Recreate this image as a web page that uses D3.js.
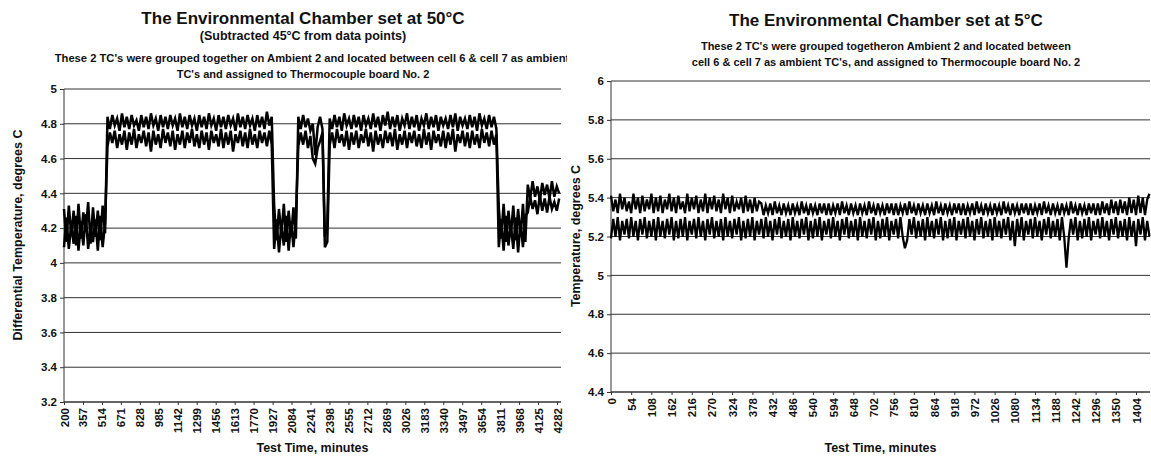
<!DOCTYPE html>
<html>
<head>
<meta charset="utf-8">
<script src="https://cdn.jsdelivr.net/npm/d3@7"></script>
<style>
  body { margin: 0; background: #fff; }
  svg { display: block; }
  text { font-family: "Liberation Sans", Arial, sans-serif; font-weight: bold; fill: #111; }
  .grid line { stroke: #333; stroke-width: 1; }
  .axis path, .axis line { stroke: #333; }
  .series { fill: none; stroke: #000; stroke-linejoin: miter; }
</style>
</head>
<body>
<div class="chart"></div>
<script>
'use strict';
// ---- 50C chamber (left), samples every 20 min from 200 min ----
var leftStart = 200, leftStep = 20;
var leftTickLabels = [200,357,514,671,828,985,1142,1299,1456,1613,1770,1927,2084,2241,2398,2555,2712,2869,3026,3183,3340,3497,3654,3811,3968,4125,4282];
var leftYTicks = [3.2,3.4,3.6,3.8,4,4.2,4.4,4.6,4.8,5];

var leftTC1 = [
 4.31,4.12,4.33,4.16,4.30,4.10,4.34,4.14,4.29,4.18,4.35,4.11,4.32,4.15,4.30,4.13,4.33,4.17,
 4.84,4.77,4.85,4.79,4.83,4.76,4.86,4.78,4.84,4.77,
 4.85,4.79,4.82,4.76,4.85,4.78,4.84,4.77,4.86,4.79,
 4.83,4.76,4.85,4.78,4.84,4.77,4.85,4.79,4.83,4.76,
 4.86,4.78,4.84,4.77,4.85,4.79,4.83,4.76,4.85,4.78,
 4.84,4.77,4.86,4.79,4.83,4.76,4.85,4.78,4.84,4.77,
 4.85,4.79,4.83,4.76,4.86,4.78,4.84,4.77,4.85,4.79,
 4.83,4.76,4.85,4.78,4.84,4.77,4.87,4.79,4.84,
 4.33,4.13,4.31,4.16,4.34,4.12,4.30,4.15,4.32,4.14,
 4.84,4.77,4.85,4.78,4.83,4.76,4.80,4.62,4.78,4.84,4.77,
 4.15,4.22,
 4.83,4.77,4.85,4.78,4.84,4.76,4.86,4.79,4.83,4.77,
 4.85,4.78,4.84,4.76,4.85,4.79,4.83,4.77,4.86,4.78,
 4.84,4.76,4.85,4.79,4.87,4.77,4.84,4.78,4.85,4.76,
 4.83,4.79,4.86,4.77,4.84,4.78,4.85,4.76,4.83,4.79,
 4.86,4.77,4.84,4.78,4.85,4.76,4.84,4.79,4.83,4.77,
 4.85,4.78,4.86,4.76,4.84,4.79,4.83,4.77,4.85,4.78,
 4.84,4.76,4.86,4.79,4.83,4.77,4.85,4.78,4.84,4.77,
 4.32,4.14,4.34,4.12,4.30,4.16,4.33,4.13,4.31,4.15,4.34,4.12,
 4.45,4.37,4.47,4.38,4.44,4.36,4.46,4.39,4.45,4.37,4.47,4.38,4.44,4.40
];
var leftTC2 = [
 4.09,4.26,4.08,4.22,4.11,4.27,4.07,4.24,4.10,4.28,4.08,4.21,4.12,4.25,4.07,4.27,4.09,4.23,
 4.67,4.75,4.69,4.76,4.66,4.74,4.68,4.76,4.65,4.75,
 4.68,4.77,4.66,4.74,4.69,4.76,4.67,4.75,4.64,4.76,
 4.68,4.74,4.66,4.77,4.69,4.75,4.67,4.76,4.65,4.74,
 4.68,4.76,4.66,4.75,4.69,4.77,4.67,4.74,4.66,4.76,
 4.68,4.75,4.65,4.76,4.69,4.74,4.67,4.77,4.66,4.75,
 4.68,4.76,4.64,4.74,4.69,4.76,4.67,4.75,4.66,4.77,
 4.68,4.74,4.66,4.76,4.69,4.75,4.67,4.76,4.68,
 4.08,4.25,4.06,4.22,4.10,4.27,4.07,4.24,4.09,4.26,
 4.67,4.75,4.68,4.76,4.66,4.73,4.60,4.57,4.66,4.70,4.75,
 4.09,4.12,
 4.68,4.75,4.66,4.77,4.69,4.74,4.67,4.76,4.65,4.75,
 4.68,4.76,4.66,4.74,4.69,4.77,4.67,4.75,4.64,4.76,
 4.68,4.74,4.66,4.76,4.69,4.75,4.67,4.77,4.65,4.74,
 4.68,4.76,4.66,4.75,4.69,4.76,4.67,4.74,4.66,4.77,
 4.68,4.75,4.65,4.76,4.69,4.74,4.67,4.76,4.66,4.75,
 4.68,4.77,4.64,4.74,4.69,4.76,4.67,4.75,4.66,4.76,
 4.68,4.74,4.66,4.77,4.69,4.75,4.67,4.76,4.68,4.74,
 4.09,4.25,4.07,4.27,4.10,4.22,4.08,4.26,4.06,4.24,4.09,4.27,
 4.29,4.38,4.31,4.36,4.28,4.39,4.30,4.37,4.29,4.38,4.31,4.35,4.30,4.37
];

// ---- 5C chamber (right), samples every 6 min from 0 ----
var rightStart = 0, rightStep = 6;
var rightTickLabels = [0,54,108,162,216,270,324,378,432,486,540,594,648,702,756,810,864,918,972,1026,1080,1134,1188,1242,1296,1350,1404];
var rightYTicks = [4.4,4.6,4.8,5,5.2,5.4,5.6,5.8,6];

var rightTC1 = [
 5.41,5.33,5.39,5.32,5.42,5.34,5.40,5.33,5.38,5.32,
 5.42,5.34,5.40,5.32,5.41,5.33,5.39,5.34,5.42,5.32,
 5.40,5.33,5.41,5.32,5.39,5.34,5.42,5.33,5.40,5.32,
 5.41,5.34,5.38,5.32,5.42,5.33,5.40,5.34,5.41,5.32,
 5.39,5.33,5.42,5.32,5.40,5.34,5.41,5.33,5.39,5.32,
 5.42,5.34,5.40,5.32,5.41,5.33,5.38,5.34,5.40,5.32,
 5.41,5.33,5.39,5.32,5.40,5.33,5.38,
 5.37,5.31,5.36,5.32,5.37,5.31,5.38,5.32,5.36,5.31,
 5.37,5.32,5.36,5.31,5.37,5.32,5.36,5.31,5.38,5.32,
 5.36,5.31,5.37,5.32,5.36,5.31,5.37,5.32,5.37,5.31,
 5.37,5.31,5.36,5.32,5.37,5.31,5.38,5.32,5.36,5.31,
 5.37,5.32,5.36,5.31,5.37,5.32,5.36,5.31,5.38,5.32,
 5.36,5.31,5.37,5.32,5.36,5.31,5.37,5.32,5.37,5.31,
 5.37,5.31,5.36,5.32,5.37,5.31,5.38,5.32,5.36,5.31,
 5.37,5.32,5.36,5.31,5.37,5.32,5.36,5.31,5.38,5.32,
 5.36,5.31,5.37,5.32,5.36,5.31,5.37,5.32,5.37,5.31,
 5.37,5.31,5.36,5.32,5.37,5.31,5.38,5.32,5.36,5.31,
 5.37,5.32,5.36,5.31,5.37,5.32,5.36,5.31,5.38,5.32,
 5.36,5.31,5.37,5.32,5.36,5.31,5.37,5.32,5.37,5.31,
 5.37,5.31,5.36,5.32,5.37,5.31,5.38,5.32,5.36,5.31,
 5.37,5.32,5.36,5.31,5.37,5.32,5.36,5.31,5.38,5.32,
 5.36,5.31,5.37,5.32,5.36,5.31,5.37,5.32,5.37,5.31,
 5.37,5.31,5.38,5.32,5.37,5.31,5.39,5.32,5.38,5.31,
 5.39,5.32,5.38,5.31,5.40,5.32,5.39,5.31,5.41,5.32,
 5.40,5.31,5.39,5.42
];
var rightTC2 = [
 5.19,5.29,5.20,5.30,5.18,5.28,5.21,5.29,5.19,5.30,
 5.20,5.28,5.18,5.29,5.21,5.30,5.19,5.28,5.20,5.29,
 5.18,5.30,5.20,5.28,5.19,5.29,5.21,5.30,5.18,5.28,
 5.19,5.29,5.20,5.30,5.18,5.28,5.21,5.29,5.19,5.30,
 5.20,5.28,5.18,5.29,5.21,5.30,5.19,5.28,5.20,5.29,
 5.18,5.30,5.20,5.28,5.19,5.29,5.21,5.30,5.18,5.28,
 5.19,5.29,5.20,5.30,5.18,5.28,5.21,5.29,5.19,5.30,
 5.20,5.28,5.18,5.29,5.21,5.30,5.19,5.28,5.20,5.29,
 5.18,5.30,5.20,5.28,5.19,5.29,5.21,5.30,5.18,5.28,
 5.19,5.29,5.20,5.30,5.18,5.28,5.21,5.29,5.19,5.30,
 5.20,5.28,5.18,5.29,5.21,5.30,5.19,5.28,5.20,5.29,
 5.18,5.30,5.20,5.28,5.19,5.29,5.21,5.30,5.18,5.28,
 5.19,5.29,5.20,5.30,5.18,5.28,5.21,5.29,5.19,5.30,
 5.20,5.14,5.18,5.29,5.21,5.30,5.19,5.28,5.20,5.29,
 5.18,5.30,5.20,5.28,5.19,5.29,5.21,5.30,5.18,5.28,
 5.19,5.29,5.20,5.30,5.18,5.28,5.21,5.29,5.19,5.30,
 5.20,5.28,5.18,5.29,5.21,5.30,5.19,5.28,5.20,5.29,
 5.18,5.30,5.20,5.28,5.19,5.29,5.21,5.30,5.18,5.28,
 5.15,5.29,5.20,5.30,5.18,5.28,5.21,5.29,5.19,5.30,
 5.20,5.28,5.18,5.29,5.21,5.30,5.19,5.28,5.20,5.29,
 5.18,5.30,5.20,5.04,5.19,5.29,5.21,5.30,5.18,5.28,
 5.19,5.29,5.20,5.30,5.18,5.28,5.21,5.29,5.19,5.30,
 5.20,5.28,5.18,5.29,5.21,5.30,5.19,5.28,5.20,5.29,
 5.18,5.30,5.20,5.28,5.15,5.29,5.21,5.30,5.18,5.28,
 5.20
];

var W = 1151, H = 466;
var svg = d3.select(".chart").append("svg")
  .attr("width", W).attr("height", H);

function panel(cfg) {
  var g = svg.append("g");
  var x = d3.scaleLinear().domain(cfg.xDomain).range(cfg.xRange);
  var y = d3.scaleLinear().domain(cfg.yDomain).range([cfg.bottom, cfg.top]);

  // horizontal gridlines
  g.append("g").attr("class", "grid")
    .selectAll("line").data(cfg.yTicks).enter().append("line")
      .attr("x1", cfg.xRange[0]).attr("x2", cfg.right)
      .attr("y1", function(d) { return y(d); }).attr("y2", function(d) { return y(d); });

  // y axis
  var yAxis = d3.axisLeft(y).tickValues(cfg.yTicks).tickSize(4).tickPadding(3).tickFormat(d3.format("~g"));
  g.append("g").attr("class", "axis")
    .attr("transform", "translate(" + cfg.xRange[0] + ",0)")
    .call(yAxis)
    .call(function(s) { s.select(".domain").attr("d", "M0," + cfg.top + "V" + cfg.bottom); })
    .selectAll("text").style("font-size", "11.5px").style("font-family", '"Liberation Sans", Arial').style("font-weight", "bold");

  // x axis
  var xAxis = d3.axisBottom(x).tickValues(cfg.xTicks).tickSize(3).tickFormat(d3.format("d"));
  g.append("g").attr("class", "axis")
    .attr("transform", "translate(0," + cfg.bottom + ")")
    .call(xAxis)
    .call(function(s) { s.select(".domain").attr("d", "M" + cfg.xRange[0] + ",0H" + cfg.right); })
    .selectAll("text")
      .attr("transform", "rotate(-90)")
      .attr("x", -6).attr("y", 0).attr("dy", "0.35em")
      .style("text-anchor", "end")
      .style("font-size", "11.5px").style("font-family", '"Liberation Sans", Arial').style("font-weight", "bold");

  var line = d3.line()
    .x(function(d, i) { return x(cfg.start + i * cfg.step); })
    .y(function(d) { return y(d); });

  cfg.series.forEach(function(s) {
    g.append("path").attr("class", "series")
      .attr("stroke-width", cfg.lineWidth)
      .attr("d", line(s));
  });

  // titles
  var clipId = "clip" + cfg.id;
  svg.append("clipPath").attr("id", clipId)
    .append("rect").attr("x", cfg.clip[0]).attr("y", 0).attr("width", cfg.clip[1] - cfg.clip[0]).attr("height", H);
  var tg = svg.append("g").attr("clip-path", "url(#" + clipId + ")");
  cfg.titles.forEach(function(t) {
    tg.append("text").attr("x", t.x || cfg.titleX).attr("y", t.y)
      .attr("text-anchor", "middle").style("font-size", t.size + "px").text(t.text);
  });

  svg.append("text")
    .attr("transform", "translate(" + cfg.yLabelX + "," + cfg.yLabelY + ") rotate(-90)")
    .attr("text-anchor", "middle").style("font-size", "12.5px").text(cfg.yLabel);
  svg.append("text")
    .attr("x", (cfg.xRange[0] + cfg.right) / 2).attr("y", 452)
    .attr("text-anchor", "middle").style("font-size", "12.5px").text("Test Time, minutes");
}

panel({
  id: "L",
  xDomain: [200, 4282], xRange: [64, 557], right: 561,
  yDomain: [3.2, 5], top: 89, bottom: 402,
  yTicks: leftYTicks, xTicks: leftTickLabels,
  start: leftStart, step: leftStep, series: [leftTC1, leftTC2], lineWidth: 2.5,
  titleX: 303, clip: [0, 567],
  titles: [
    { y: 24, size: 17, text: "The Environmental Chamber set at 50°C" },
    { y: 40, size: 12.5, text: "(Subtracted 45°C from data points)" },
    { y: 62, size: 11.2, x: 312, text: "These 2 TC's were grouped together on Ambient 2 and located between cell 6 & cell 7 as ambient" },
    { y: 78, size: 11, text: "TC's and assigned to Thermocouple board No. 2" }
  ],
  yLabel: "Differential Temperature, degrees C", yLabelX: 22, yLabelY: 235
});

panel({
  id: "R",
  xDomain: [0, 1404], xRange: [611, 1136], right: 1150,
  yDomain: [4.4, 6], top: 81, bottom: 392,
  yTicks: rightYTicks, xTicks: rightTickLabels,
  start: rightStart, step: rightStep, series: [rightTC1, rightTC2], lineWidth: 2.3,
  titleX: 886, clip: [567, W],
  titles: [
    { y: 26, size: 17, text: "The Environmental Chamber set at 5°C" },
    { y: 50, size: 11, text: "These 2 TC's were grouped togetheron Ambient 2 and located between" },
    { y: 66, size: 11, text: "cell 6 & cell 7 as ambient TC's, and assigned to Thermocouple board No. 2" }
  ],
  yLabel: "Temperature, degrees C", yLabelX: 580, yLabelY: 236
});
</script>
</body>
</html>
